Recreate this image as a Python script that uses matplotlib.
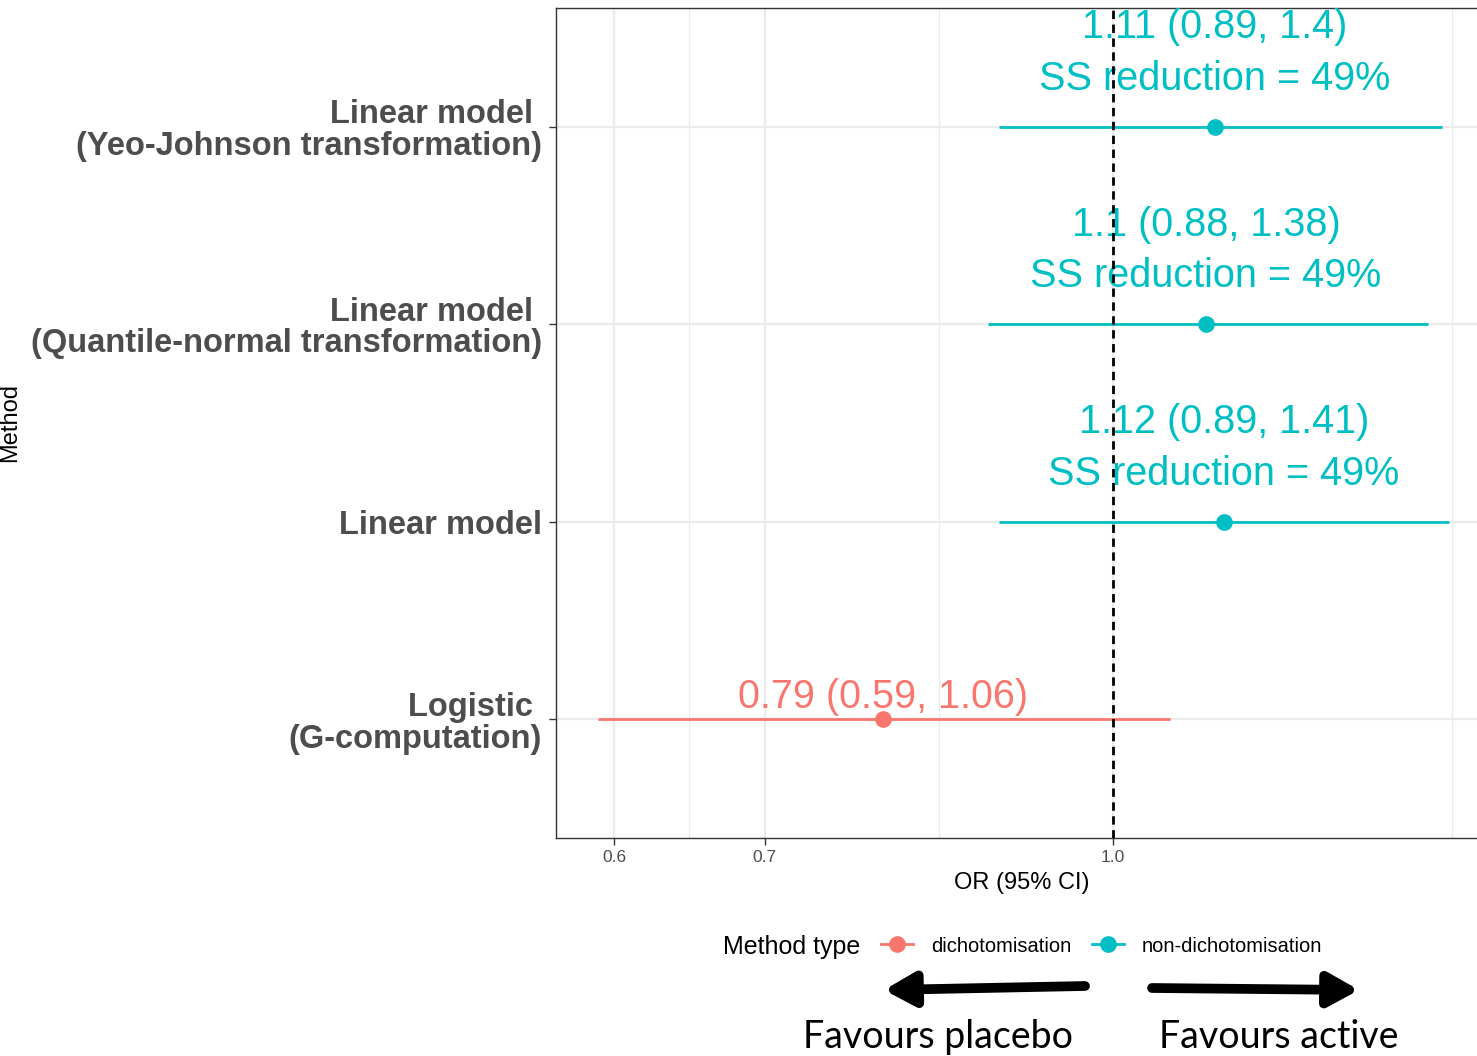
import matplotlib
matplotlib.use("Agg")
import matplotlib.pyplot as plt
import numpy as np
from matplotlib.lines import Line2D
from matplotlib.ticker import NullFormatter, FixedLocator

plt.rcParams["font.family"] = ["Liberation Sans", "DejaVu Sans"]

# --- data ---
methods = ["Logistic \n(G-computation)", "Linear model",
           "Linear model \n(Quantile-normal transformation)",
           "Linear model \n(Yeo-Johnson transformation)"]
or_est = [0.79, 1.12, 1.10, 1.11]
or_lo = [0.59, 0.89, 0.88, 0.89]
or_hi = [1.06, 1.41, 1.38, 1.40]
mtype = ["dichotomisation", "non-dichotomisation", "non-dichotomisation", "non-dichotomisation"]
labels = ["0.79 (0.59, 1.06)",
          "1.12 (0.89, 1.41)\nSS reduction = 49%",
          "1.1 (0.88, 1.38)\nSS reduction = 49%",
          "1.11 (0.89, 1.4)\nSS reduction = 49%"]
xticks = [0.6, 0.7, 1.0]
xticklabels = ["0.6", "0.7", "1.0"]
xminor = [np.sqrt(0.6 * 0.7), np.sqrt(0.7 * 1.0), np.sqrt(2.0)]
colors = {"dichotomisation": "#F8766D", "non-dichotomisation": "#00BFC4"}

W, H = 1477, 1056
fig = plt.figure(figsize=(W / 100, H / 100), dpi=100)
ax = fig.add_axes([556 / W, 1 - 838 / H, (1488 - 556) / W, (838 - 8) / H])

ys = np.arange(1, len(methods) + 1)
ax.set_xscale("log")
fs = 28.5
for y, e, lo, hi, t, lab in zip(ys, or_est, or_lo, or_hi, mtype, labels):
    c = colors[t]
    ax.plot([lo, hi], [y, y], color=c, lw=2, zorder=3, solid_capstyle="butt")
    ax.plot([e], [y], "o", color=c, ms=11, zorder=4)
    n = lab.count("\n") + 1
    dy = fs * (0.095 + 0.63 * (n - 1))
    ax.annotate(lab, (e, y), xytext=(0, dy), textcoords="offset points",
                ha="center", va="bottom", fontsize=fs, color=c,
                linespacing=1.46, zorder=5)

ax.axvline(1.0, color="black", ls=(0, (3, 2)), lw=2, zorder=6)

ax.set_xlim(0.5654, 1.468)
ax.set_ylim(0.4, 4.6)
ax.xaxis.set_major_locator(FixedLocator(xticks))
ax.set_xticklabels(xticklabels)
ax.xaxis.set_minor_locator(FixedLocator(xminor))
ax.xaxis.set_minor_formatter(NullFormatter())
ax.set_yticks(ys)
ax.set_yticklabels(methods, fontsize=23.5, fontweight="bold", color="#4D4D4D",
                   linespacing=1.03)
ax.tick_params(axis="x", which="major", labelsize=12.5, labelcolor="#4D4D4D",
               length=5, width=1, color="#333333", pad=4)
ax.tick_params(axis="x", which="minor", length=0)
ax.tick_params(axis="y", length=5, width=1, color="#333333", pad=5)
ax.grid(True, which="major", color="#EBEBEB", lw=1.6, zorder=0)
ax.grid(True, which="minor", axis="x", color="#EBEBEB", lw=0.9, zorder=0)
ax.set_axisbelow(True)
for s in ax.spines.values():
    s.set_color("#333333")
    s.set_linewidth(1)

ax.set_xlabel("OR (95% CI)", fontsize=17, labelpad=5)
ax.set_ylabel("Method", fontsize=17)
ax.yaxis.set_label_coords(-0.574, 0.5)

# legend below
fig.text(723 / W, 1 - 947 / H, "Method type", fontsize=18, ha="left", va="center")
handles = [Line2D([0], [0], color=colors[k], lw=2, marker="o", ms=11) for k in colors]
fig.legend(handles, list(colors), loc="center left", bbox_to_anchor=(871 / W, 1 - 946 / H),
           ncol=2, frameon=False, fontsize=14.5, handlelength=1.6, handletextpad=0.9,
           columnspacing=1.0, borderpad=0)

# favours arrows
arrow_kw = dict(arrowstyle="-|>,head_length=0.9,head_width=0.5", lw=7, color="black",
                shrinkA=0, shrinkB=0, capstyle="round")
fig.add_artist(matplotlib.patches.FancyArrowPatch(
    (1085 / W, 1 - 986 / H), (884 / W, 1 - 990 / H), transform=fig.transFigure,
    mutation_scale=20, **arrow_kw))
fig.add_artist(matplotlib.patches.FancyArrowPatch(
    (1152 / W, 1 - 988 / H), (1359 / W, 1 - 990 / H), transform=fig.transFigure,
    mutation_scale=20, **arrow_kw))
fig.text(938 / W, 1 - 1037 / H, "Favours placebo", fontsize=27, ha="center", va="center",
         family=["Lato", "DejaVu Sans"])
fig.text(1279 / W, 1 - 1037 / H, "Favours active", fontsize=27, ha="center", va="center",
         family=["Lato", "DejaVu Sans"])

fig.savefig("out.png", dpi=100)
